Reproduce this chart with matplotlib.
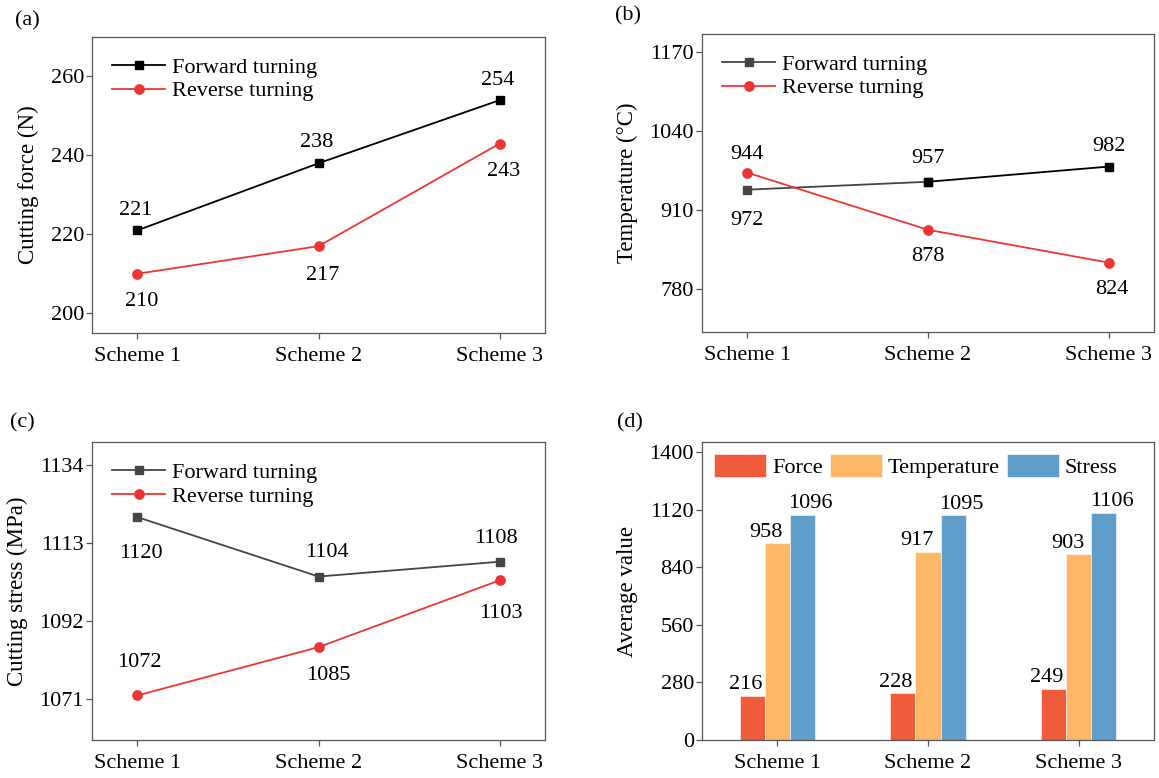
import numpy as np
import matplotlib
matplotlib.use("Agg")
import matplotlib.pyplot as plt

plt.rcParams["font.family"] = ["Liberation Serif", "DejaVu Serif"]
plt.rcParams["font.size"] = 16

schemes = ["Scheme 1", "Scheme 2", "Scheme 3"]

force_fwd = [221, 238, 254]
force_rev = [210, 217, 243]
temp_fwd = [944, 957, 982]
temp_rev = [972, 878, 824]
stress_fwd = [1120, 1104, 1108]
stress_rev = [1072, 1085, 1103]

avg_names = ["Force", "Temperature", "Stress"]
avg_force = [216, 228, 249]
avg_temp = [958, 917, 903]
avg_stress = [1096, 1095, 1106]

RED = "#EE3535"
GREY = "#454545"
BAR_COLORS = ["#F05C3B", "#FDB766", "#5F9ECB"]
SPINE = "#555555"
PX = 0.72  # pixels -> points at dpi 100

fig = plt.figure(figsize=(11.59, 7.78), dpi=100)
axa = fig.add_axes([0.0794, 0.5720, 0.3909, 0.3805])
axb = fig.add_axes([0.6057, 0.5733, 0.3900, 0.3830])
axc = fig.add_axes([0.0794, 0.0488, 0.3909, 0.3830])
axd = fig.add_axes([0.6057, 0.0488, 0.3900, 0.3830])


def style(ax, yticks, ylim, ylabel):
    for s in ax.spines.values():
        s.set_color(SPINE)
        s.set_linewidth(0.9)
    ax.tick_params(direction="out", length=4.3, width=0.9, color=SPINE,
                   top=False, right=False)
    ax.tick_params(axis="y", pad=1.5)
    ax.tick_params(axis="x", pad=5.5)
    ax.set_yticks(yticks)
    ax.set_ylim(*ylim)
    ax.set_ylabel(ylabel, fontsize=16.5, labelpad=8)


def labels(ax, x, vals, dys, dxs=None):
    if dxs is None:
        dxs = [0] * len(vals)
    for xi, v, dy, dx in zip(x, vals, dys, dxs):
        ax.annotate(f"{v}", (xi, v), xytext=(dx * PX, dy * PX), textcoords="offset points",
                    ha="center", va="center", fontsize=16)


def line_legend(ax):
    ax.legend(loc="upper left", frameon=False, handlelength=2.4, handletextpad=0.3,
              labelspacing=0.15, borderpad=0.4, borderaxespad=0.5, fontsize=16)


x = np.arange(1, 4)
mk = dict(lw=1.3)

# (a) cutting force
axa.plot(x, force_fwd, color="black", marker="s", ms=6.2, label="Forward turning", **mk)
axa.plot(x, force_rev, color=RED, marker="o", ms=6.7, label="Reverse turning", **mk)
labels(axa, x, force_fwd, [20, 21, 20], [-2, -2, -2])
labels(axa, x, force_rev, [-28, -29, -28], [4, 4, 4])
style(axa, [200, 220, 240, 260], (195, 270), "Cutting force (N)")
line_legend(axa)

# (b) temperature
axb.plot(x[:2], temp_fwd[:2], color=GREY, marker="s", ms=6.2, label="Forward turning", **mk)
axb.plot(x[1:], temp_fwd[1:], color="black", marker="s", ms=6.2, **mk)
axb.plot(x, temp_rev, color=RED, marker="o", ms=6.7, label="Reverse turning", **mk)
labels(axb, x, temp_fwd, [35, 23, 20])
labels(axb, x, temp_rev, [-48, -27, -27], [0, 0, 3])
style(axb, [780, 910, 1040, 1170], (710, 1200), "Temperature (°C)")
line_legend(axb)

# (c) cutting stress
axc.plot(x, stress_fwd, color=GREY, marker="s", ms=6.2, label="Forward turning", **mk)
axc.plot(x, stress_rev, color=RED, marker="o", ms=6.7, label="Reverse turning", **mk)
labels(axc, x, stress_fwd, [-36, 24, 23], [4, 8, -4])
labels(axc, x, stress_rev, [33, -28, -33], [2, 10, 1])
style(axc, [1071, 1092, 1113, 1134], (1060, 1140.2), "Cutting stress (MPa)")
line_legend(axc)

for ax in (axa, axb, axc):
    ax.set_xticks(x)
    ax.set_xticklabels(schemes)
    ax.set_xlim(0.75, 3.25)

# (d) averages
w = 1 / 6
series = [avg_force, avg_temp, avg_stress]
label_dx = [-7, -11, 8]
for i, (name, vals, col) in enumerate(zip(avg_names, series, BAR_COLORS)):
    pos = x + (i - 1) * w
    bars = axd.bar(pos, vals, width=w, color=col, edgecolor="white", linewidth=0.4, label=name)
    for b, v in zip(bars, vals):
        axd.annotate(f"{v}", (b.get_x() + b.get_width() / 2, v),
                     xytext=(label_dx[i] * PX, 1), textcoords="offset points",
                     ha="center", va="bottom", fontsize=16)
style(axd, [0, 280, 560, 840, 1120, 1400], (0, 1450), "Average value")
axd.set_xticks(x)
axd.set_xticklabels(schemes)
axd.set_xlim(0.5, 3.5)
axd.legend(loc="upper left", ncol=3, frameon=False, handlelength=2.35, handleheight=1.17,
           handletextpad=0.27, columnspacing=0.3, borderpad=0.2, borderaxespad=0.35,
           fontsize=16)

# panel letters
for txt, px, py in [("(a)", 27, 21), ("(b)", 628, 16), ("(c)", 22, 423), ("(d)", 630, 423)]:
    fig.text(px / 1159, 1 - py / 778, txt, ha="center", va="center", fontsize=16)

fig.savefig("out.png", dpi=100)
